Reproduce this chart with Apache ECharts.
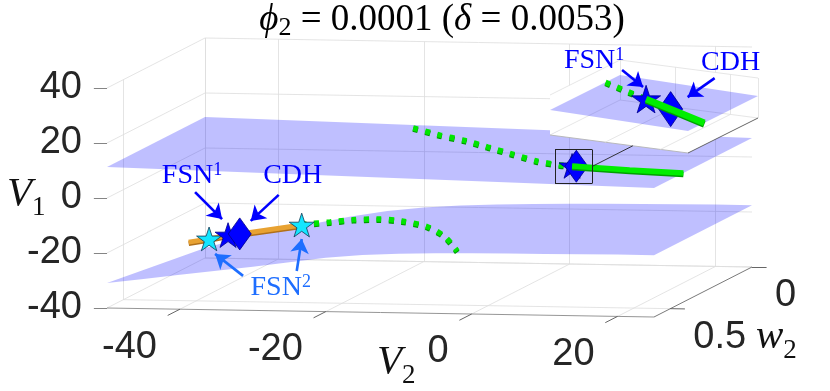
<!DOCTYPE html>
<html>
<head>
<meta charset="utf-8">
<script src="https://cdn.jsdelivr.net/npm/echarts@6/dist/echarts.min.js"></script>
<style>html,body{margin:0;padding:0;background:#fff;}#chart{width:830px;height:391px;}</style>
</head>
<body>
<div id="chart"></div>
<script>
// ================= DATA =================
const V2_TICKS = [-40, -20, 0, 20];
const V2_TICK_LABELS = ['-40', '-20', '0', '20'];
const V1_TICKS = [-40, -20, 0, 20, 40];
const V1_TICK_LABELS = ['-40', '-20', '0', '20', '40'];
const W2_TICKS = [0, 0.5];
const W2_TICK_LABELS = ['0', '0.5'];
const V2_LIM = [-50, 25];
const W2_LIM = [0, 0.6];
const V1_LIM = [-40, 40];

// upper sheet (flat in w2)
const upperSheetV2 = [-50, 25];
const upperSheetV1 = [11.3, 6.9];

// lower sheet: V1 along back edge (w2=0) and front edge (w2=0.6)
const lowerSheetV2 = [-50, -45, -40, -35, -30, -25, -20, -15, -10, -5, 0, 5, 10, 15, 20, 25];
const lowerSheetBackV1 = [-36.4, -32.5, -29.5, -26.8, -24.0, -21.8, -20.3, -19.4, -18.8, -18.4, -18.1, -17.9, -17.7, -17.6, -17.5, -17.5];
const lowerSheetFrontV1 = [-30.9, -29.2, -27.5, -25.8, -24.1, -22.3, -20.4, -19.2, -18.5, -18.1, -17.9, -17.8, -17.7, -17.6, -17.5, -17.5];

// upper branch: unstable (dotted) then stable (solid)
const upperUnstableV2 = [-20.7, -15.5, -11.3, -6.4, -1.5, 3.3, 7.3, 8.0, 9.03];
const upperUnstableW2 = [0.034, 0.101, 0.147, 0.214, 0.282, 0.349, 0.384, 0.3858, 0.3885];
const upperUnstableV1 = [9.58, 9.27, 9.03, 8.74, 8.45, 8.17, 7.94, 7.895, 7.835];
const upperStableV2 = [9.03, 9.65, 10.5, 17.4, 25];
const upperStableW2 = [0.3885, 0.3901, 0.3923, 0.41, 0.42];
const upperStableV1 = [7.835, 7.799, 7.749, 7.344, 6.9];

// lower branch: stable (orange) then unstable (dotted green)
const lowerStableV2 = [-50, -47.2, -44.6, -43.0, -34.5];
const lowerStableW2 = [0.1, 0.1, 0.1, 0.1, 0.1];
const lowerStableV1 = [-31.2, -29.9, -28.4, -27.9, -24.3];
const lowerUnstableV2 = [-34.5, -33.8, -30.4, -26.8, -22.8, -18.3, -12.7, -8.1, -3.1];
const lowerUnstableW2 = [0.1, 0.1, 0.11, 0.13, 0.16, 0.21, 0.3, 0.4, 0.55];
const lowerUnstableV1 = [-24.3, -23.9, -22.7, -21.1, -19.8, -18.8, -18.0, -18.4, -18.8];

// special points
const fsn1V2 = [-44.6, 9.03], fsn1W2 = [0.1, 0.3885], fsn1V1 = [-28.4, 7.835];
const cdhV2 = [-43.0, 9.65], cdhW2 = [0.1, 0.3901], cdhV1 = [-27.9, 7.799];
const fsn2V2 = [-47.2, -34.5], fsn2W2 = [0.1, 0.1], fsn2V1 = [-29.9, -24.3];

// zoomed inset ranges
const INSET_V2 = [8, 10.5];
const INSET_W2 = [0.3834, 0.3950];
const INSET_V1 = [6.65, 8.65];

// ================= LAYOUT (projection of the 3D boxes) =================
function makeProj(o, ex, ey, ez, xl, yl, zl) {
  return function (V2, w, V1) {
    const u = (V2 - xl[0]) / (xl[1] - xl[0]);
    const v = (w - yl[0]) / (yl[1] - yl[0]);
    const h = (V1 - zl[0]) / (zl[1] - zl[0]);
    return [o[0] + u * ex[0] + v * ey[0] + h * ez[0], o[1] + u * ex[1] + v * ey[1] + h * ez[1]];
  };
}
const P = makeProj([205, 258], [547, 9], [-98, 50], [0, -220], V2_LIM, W2_LIM, V1_LIM);
const Q = makeProj([620, 100], [138, 18], [-70, 35], [0, -40], INSET_V2, INSET_W2, INSET_V1);

function interp(xs, ys, x) {
  for (let i = 1; i < xs.length; i++) {
    if (x <= xs[i]) { const t = (x - xs[i - 1]) / (xs[i] - xs[i - 1]); return ys[i - 1] + t * (ys[i] - ys[i - 1]); }
  }
  return ys[ys.length - 1];
}
function clipV2(V2s, Ws, V1s, lo, hi) {
  const out = [];
  for (let i = 0; i < V2s.length; i++) {
    if (i > 0) {
      const a = V2s[i - 1], b = V2s[i];
      for (const e of [lo, hi]) {
        if ((a - e) * (b - e) < 0) {
          const t = (e - a) / (b - a);
          out.push([e, Ws[i - 1] + t * (Ws[i] - Ws[i - 1]), V1s[i - 1] + t * (V1s[i] - V1s[i - 1])]);
        }
      }
    }
    if (V2s[i] >= lo && V2s[i] <= hi) out.push([V2s[i], Ws[i], V1s[i]]);
  }
  return out;
}
const tri = (a, b, c) => a.map((x, i) => [x, b[i], c[i]]);
const proj = (F, pts) => pts.map(p => F(p[0], p[1], p[2]));

const GRID_C = '#dddddd';
const SERIF = "'Liberation Serif','DejaVu Serif',serif";
const SANS = "'Liberation Sans',Arial,sans-serif";
const STAR = 'path://M0,-100 L22.45,-30.9 L95.1,-30.9 L36.3,11.8 L58.8,80.9 L0,38.2 L-58.8,80.9 L-36.3,11.8 L-95.1,-30.9 L-22.45,-30.9 Z';

// ---- main box grid ----
const gridSegs = [];
const seg = (a, b, ls) => ls ? { coords: [a, b], lineStyle: ls } : { coords: [a, b] };
[V2_LIM[0]].concat(V2_TICKS).forEach(t => gridSegs.push(seg(P(t, 0, V1_LIM[0]), P(t, 0, V1_LIM[1]))));
V1_TICKS.forEach(t => gridSegs.push(seg(P(V2_LIM[0], 0, t), P(V2_LIM[1], 0, t))));
V1_TICKS.forEach(t => gridSegs.push(seg(P(V2_LIM[0], 0, t), P(V2_LIM[0], W2_LIM[1], t))));
W2_TICKS.forEach(t => gridSegs.push(seg(P(V2_LIM[0], t, V1_LIM[0]), P(V2_LIM[0], t, V1_LIM[1]))));
V2_TICKS.forEach(t => gridSegs.push(seg(P(t, 0, V1_LIM[0]), P(t, W2_LIM[1], V1_LIM[0]))));
W2_TICKS.forEach(t => gridSegs.push(seg(P(V2_LIM[0], t, V1_LIM[0]), P(V2_LIM[1], t, V1_LIM[0]))));

const axisSegs = [];
axisSegs.push(seg(P(V2_LIM[0], W2_LIM[1], V1_LIM[0]), P(V2_LIM[1], W2_LIM[1], V1_LIM[0]), { color: '#8a8a8a', width: 0.9, opacity: 1 }));
axisSegs.push(seg(P(V2_LIM[1], W2_LIM[0], V1_LIM[0]), P(V2_LIM[1], W2_LIM[1], V1_LIM[0]), { color: '#6a6a6a', width: 0.9, opacity: 1 }));
V2_TICKS.forEach(t => axisSegs.push(seg(P(t, W2_LIM[1], V1_LIM[0]), P(t, W2_LIM[1] + 0.075, V1_LIM[0]), { color: '#555', width: 0.9, opacity: 1 })));
W2_TICKS.forEach(t => axisSegs.push(seg(P(V2_LIM[1], t, V1_LIM[0]), P(V2_LIM[1] + 2, t, V1_LIM[0]), { color: '#555', width: 0.9, opacity: 1 })));
V1_TICKS.forEach(t => axisSegs.push(seg(P(V2_LIM[0], W2_LIM[1], t), P(V2_LIM[0] - 1.8, W2_LIM[1], t), { color: '#777', width: 0.9, opacity: 1 })));

// ---- sheets ----
const upperPoly = proj(P, [
  [upperSheetV2[0], W2_LIM[0], upperSheetV1[0]], [upperSheetV2[1], W2_LIM[0], upperSheetV1[1]],
  [upperSheetV2[1], W2_LIM[1], upperSheetV1[1]], [upperSheetV2[0], W2_LIM[1], upperSheetV1[0]]]);
const lowerPoly = proj(P, lowerSheetV2.map((v, i) => [v, W2_LIM[0], lowerSheetBackV1[i]])
  .concat(lowerSheetV2.map((v, i) => [v, W2_LIM[1], lowerSheetFrontV1[i]]).reverse()));

function polySeries(polys, fill, z, stroke) {
  return {
    type: 'custom', coordinateSystem: 'cartesian2d', z: z, silent: true, clip: false,
    data: polys.map((p, i) => [p[0][0], p[0][1], i]),
    renderItem: function (params, api) {
      const pts = polys[params.dataIndex].map(pt => api.coord(pt));
      return { type: 'polygon', shape: { points: pts }, style: { fill: fill, stroke: stroke || null, lineWidth: 0 } };
    }
  };
}
function lineSeries(pts, ls, z, smooth) {
  return { type: 'line', data: pts, showSymbol: false, symbol: 'none', z: z, silent: true, clip: false,
    smooth: smooth || false, lineStyle: Object.assign({ opacity: 1 }, ls) };
}
function markSeries(pts, symbol, size, color, border, z, keep) {
  return { type: 'scatter', data: pts, symbol: symbol, symbolSize: size, symbolKeepAspect: !!keep, z: z, silent: true,
    itemStyle: { color: color, borderColor: border, borderWidth: 0.8, opacity: 1 } };
}
const DOT = { color: '#00e600', width: 5.5, type: [5, 7.5], cap: 'butt', shadowColor: '#009a00', shadowOffsetY: 1.2, shadowBlur: 0 };
const SOLID_G = { color: '#00ee00', width: 5.5, cap: 'butt', shadowColor: '#00a000', shadowOffsetY: 1.5, shadowBlur: 0 };
const ORANGE = { color: '#e8a232', width: 5, cap: 'butt', shadowColor: '#b0701a', shadowOffsetY: 1.5, shadowBlur: 0 };

// main curves
const upperUnstablePts = proj(P, tri(upperUnstableV2, upperUnstableW2, upperUnstableV1));
const upperStablePts = proj(P, tri(upperStableV2, upperStableW2, upperStableV1));
const lowerStablePts = proj(P, tri(lowerStableV2, lowerStableW2, lowerStableV1));
const lowerUnstablePts = proj(P, tri(lowerUnstableV2, lowerUnstableW2, lowerUnstableV1));
const fsn1Main = proj(P, tri(fsn1V2, fsn1W2, fsn1V1));
const cdhMain = proj(P, tri(cdhV2, cdhW2, cdhV1));
const fsn2Main = proj(P, tri(fsn2V2, fsn2W2, fsn2V1));

// ---- inset ----
const ic = (i, j, k) => Q(INSET_V2[i], INSET_W2[j], INSET_V1[k]);
const insetWalls = [
  [ic(0, 0, 0), ic(1, 0, 0), ic(1, 1, 0), ic(0, 1, 0)],
  [ic(0, 0, 0), ic(1, 0, 0), ic(1, 0, 1), ic(0, 0, 1)],
  [ic(0, 0, 0), ic(0, 1, 0), ic(0, 1, 1), ic(0, 0, 1)]
];
const L1 = { color: '#e0e0e0', width: 0.8, opacity: 1 };
const insetSegs = [
  seg(ic(0, 0, 0), ic(1, 0, 0), L1), seg(ic(0, 0, 0), ic(0, 1, 0), L1),
  seg(ic(0, 0, 0), ic(0, 0, 1), L1), seg(ic(1, 0, 0), ic(1, 0, 1), L1),
  seg(ic(0, 0, 1), ic(1, 0, 1), L1), seg(ic(0, 0, 1), ic(0, 1, 1), L1),
  seg(ic(0, 1, 0), ic(1, 1, 0), { color: '#b4b4b4', width: 0.9, opacity: 1 }),
  seg(ic(1, 0, 0), ic(1, 1, 0), { color: '#555', width: 0.9, opacity: 1 })
];
[9, 10].forEach(t => {
  insetSegs.push(seg(Q(t, INSET_W2[0], INSET_V1[0]), Q(t, INSET_W2[0], INSET_V1[1]), L1));
  insetSegs.push(seg(Q(t, INSET_W2[0], INSET_V1[0]), Q(t, INSET_W2[1], INSET_V1[0]), L1));
});
const ipv = x => interp(upperSheetV2, upperSheetV1, x);
const insetPlane = proj(Q, [
  [INSET_V2[0], INSET_W2[0], ipv(INSET_V2[0])], [INSET_V2[1], INSET_W2[0], ipv(INSET_V2[1])],
  [INSET_V2[1], INSET_W2[1], ipv(INSET_V2[1])], [INSET_V2[0], INSET_W2[1], ipv(INSET_V2[0])]]);
const inRange = (i, A, B) => A[i] >= INSET_V2[0] && A[i] <= INSET_V2[1] && B[i] >= INSET_W2[0] && B[i] <= INSET_W2[1];
const insetUnstable = proj(Q, clipV2(upperUnstableV2, upperUnstableW2, upperUnstableV1, INSET_V2[0], INSET_V2[1]));
const insetStable = proj(Q, clipV2(upperStableV2, upperStableW2, upperStableV1, INSET_V2[0], INSET_V2[1]));
const fsn1Inset = proj(Q, tri(fsn1V2, fsn1W2, fsn1V1).filter((p, i) => inRange(i, fsn1V2, fsn1W2)));
const cdhInset = proj(Q, tri(cdhV2, cdhW2, cdhV1).filter((p, i) => inRange(i, cdhV2, cdhW2)));

// zoom rectangle + connector
const midV2 = (INSET_V2[0] + INSET_V2[1]) / 2, midW = (INSET_W2[0] + INSET_W2[1]) / 2, midV1 = (INSET_V1[0] + INSET_V1[1]) / 2;
const rc = P(midV2, midW, midV1);
const RW = 18.5, RH = 17;
const BLK = { color: '#222', width: 1, opacity: 1 };
const rectSegs = [
  seg([rc[0] - RW, rc[1] - RH], [rc[0] + RW, rc[1] - RH], BLK), seg([rc[0] + RW, rc[1] - RH], [rc[0] + RW, rc[1] + RH], BLK),
  seg([rc[0] + RW, rc[1] + RH], [rc[0] - RW, rc[1] + RH], BLK), seg([rc[0] - RW, rc[1] + RH], [rc[0] - RW, rc[1] - RH], BLK),
  seg([rc[0] + RW, rc[1]], Q(INSET_V2[0] + 0.6 * (INSET_V2[1] - INSET_V2[0]), INSET_W2[1], INSET_V1[0]), { color: '#222', width: 0.9, opacity: 1 })
];

// ---- annotation arrows (relative to the marked points) ----
const add = (p, d) => [p[0] + d[0], p[1] + d[1]];
const BLUE = '#0000ff', LBLUE = '#1e6eff';
const arrows = [
  { from: add(fsn1Main[0], [-33, -43]), to: add(fsn1Main[0], [-6, -16]), c: BLUE },
  { from: add(cdhMain[0], [39, -39]), to: add(cdhMain[0], [11, -13]), c: BLUE },
  { from: add(fsn2Main[0], [34, 37]), to: add(fsn2Main[0], [6, 15]), c: LBLUE },
  { from: add(fsn2Main[1], [-5, 46]), to: add(fsn2Main[1], [0, 14]), c: LBLUE },
  { from: add(fsn1Inset[0], [-24, -29]), to: add(fsn1Inset[0], [-3, -12]), c: BLUE },
  { from: add(cdhInset[0], [44, -31]), to: add(cdhInset[0], [17, -12]), c: BLUE }
];

const series = [
  { type: 'lines', coordinateSystem: 'cartesian2d', z: 1, silent: true, polyline: false,
    lineStyle: { color: GRID_C, width: 0.8, opacity: 1 }, data: gridSegs },
  { type: 'lines', coordinateSystem: 'cartesian2d', z: 1, silent: true, polyline: false,
    lineStyle: { color: '#777', width: 0.9, opacity: 1 }, data: axisSegs },
  polySeries([upperPoly, lowerPoly], 'rgba(0,0,255,0.25)', 2),
  lineSeries(lowerStablePts, ORANGE, 3),
  lineSeries(lowerUnstablePts, DOT, 3, 0.3),
  lineSeries(upperUnstablePts, DOT, 3, 0.2),
  markSeries(fsn2Main, STAR, 25, '#14e6ff', '#123a55', 4, true),
  markSeries(fsn1Main, STAR, 26, BLUE, '#00008a', 4, true),
  markSeries(cdhMain, 'diamond', [23, 32], BLUE, '#00008a', 4, false),
  lineSeries(upperStablePts, SOLID_G, 5),
  // inset
  polySeries(insetWalls, '#ffffff', 6),
  { type: 'lines', coordinateSystem: 'cartesian2d', z: 7, silent: true, polyline: false,
    lineStyle: { color: '#ddd', width: 0.8, opacity: 1 }, data: insetSegs },
  polySeries([insetPlane], 'rgba(0,0,255,0.25)', 8),
  lineSeries(insetUnstable, DOT, 9),
  markSeries(fsn1Inset, STAR, 29, BLUE, '#00008a', 10, true),
  markSeries(cdhInset, 'diamond', [24, 35], BLUE, '#00008a', 10, false),
  lineSeries(insetStable, Object.assign({}, SOLID_G, { width: 6.5 }), 11),
  { type: 'lines', coordinateSystem: 'cartesian2d', z: 12, silent: true, polyline: false,
    lineStyle: { color: '#222', width: 1, opacity: 1 }, data: rectSegs },
  { type: 'lines', coordinateSystem: 'cartesian2d', z: 13, silent: true, polyline: false,
    symbol: ['none', 'arrow'], symbolSize: 14,
    data: arrows.map(a => ({ coords: [a.from, a.to], lineStyle: { color: a.c, width: 2.6, opacity: 1 } })) }
];

const chart = echarts.init(document.getElementById('chart'), null, { renderer: 'canvas', width: 830, height: 391 });
chart.setOption({
  animation: false,
  backgroundColor: '#ffffff',
  grid: { left: 0, right: 0, top: 0, bottom: 0 },
  xAxis: { type: 'value', min: 0, max: 830, show: false },
  yAxis: { type: 'value', min: 0, max: 391, inverse: true, show: false },
  series: series
});

// ================= TEXT =================
const toPx = p => chart.convertToPixel({ xAxisIndex: 0, yAxisIndex: 0 }, p);
const graphics = [];
function txt(p, style) {
  const q = toPx(p);
  if (style.align) { style.textAlign = style.align; }
  if (style.verticalAlign) { style.textVerticalAlign = style.verticalAlign; }
  graphics.push({ type: 'text', x: q[0], y: q[1], silent: true, z: 100, style: style });
}
const tickStyle = (t, al) => ({ text: t, fill: '#262626', fontFamily: SANS, fontSize: 38, align: al, verticalAlign: 'middle' });
V1_TICKS.forEach((t, i) => { const p = P(V2_LIM[0], W2_LIM[1], t); txt([p[0] - 25, p[1]], tickStyle(V1_TICK_LABELS[i], 'right')); });
V2_TICKS.forEach((t, i) => { const p = P(t, W2_LIM[1], V1_LIM[0]); txt([p[0] - 23, p[1] + 38], tickStyle(V2_TICK_LABELS[i], 'right')); });
W2_TICKS.forEach((t, i) => { const p = P(V2_LIM[1], t, V1_LIM[0]); txt([p[0] + 23, p[1] + 29], tickStyle(W2_TICK_LABELS[i], 'left')); });

const richAxis = {
  v: { fontFamily: SERIF, fontStyle: 'italic', fontSize: 41, lineHeight: 48, fill: '#111' },
  s: { fontFamily: SERIF, fontSize: 27, lineHeight: 48, padding: [28, 0, 0, 0], fill: '#111' }
};
txt([7, 194], { text: '{v|V}{s|1}', rich: richAxis, align: 'left', verticalAlign: 'middle', fontSize: 41 });
txt([377, 362], { text: '{v|V}{s|2}', rich: richAxis, align: 'left', verticalAlign: 'middle', fontSize: 41 });
txt([756, 337], { text: '{v|w}{s|2}', rich: richAxis, align: 'left', verticalAlign: 'middle', fontSize: 41 });

txt([442, 20], {
  text: '{i|ϕ}{s|2}{r| = 0.0001 (}{i|δ}{r| = 0.0053)}', align: 'center', verticalAlign: 'middle', fontSize: 37,
  rich: {
    i: { fontFamily: SERIF, fontStyle: 'italic', fontSize: 37, lineHeight: 44, fill: '#000' },
    r: { fontFamily: SERIF, fontSize: 37, lineHeight: 44, fill: '#000' },
    s: { fontFamily: SERIF, fontSize: 26, lineHeight: 44, padding: [16, 0, 0, 0], fill: '#000' }
  }
});

const richLab = c => ({
  a: { fontFamily: SERIF, fontSize: 28, lineHeight: 34, fill: c },
  p: { fontFamily: SERIF, fontSize: 18, lineHeight: 34, padding: [0, 0, 11, 0], fill: c }
});
txt(add(fsn1Main[0], [-36, -59]), { text: '{a|FSN}{p|1}', rich: richLab(BLUE), align: 'center', verticalAlign: 'middle', fontSize: 28 });
txt(add(cdhMain[0], [53, -58]), { text: '{a|CDH}', rich: richLab(BLUE), align: 'center', verticalAlign: 'middle', fontSize: 28 });
txt(add(fsn2Main[1], [-21, 63]), { text: '{a|FSN}{p|2}', rich: richLab(LBLUE), align: 'center', verticalAlign: 'middle', fontSize: 28 });
txt(add(fsn1Inset[0], [-52, -38]), { text: '{a|FSN}{p|1}', rich: richLab(BLUE), align: 'center', verticalAlign: 'middle', fontSize: 28 });
txt(add(cdhInset[0], [60, -46]), { text: '{a|CDH}', rich: richLab(BLUE), align: 'center', verticalAlign: 'middle', fontSize: 28 });

chart.setOption({ graphic: { elements: graphics } });
</script>
</body>
</html>
